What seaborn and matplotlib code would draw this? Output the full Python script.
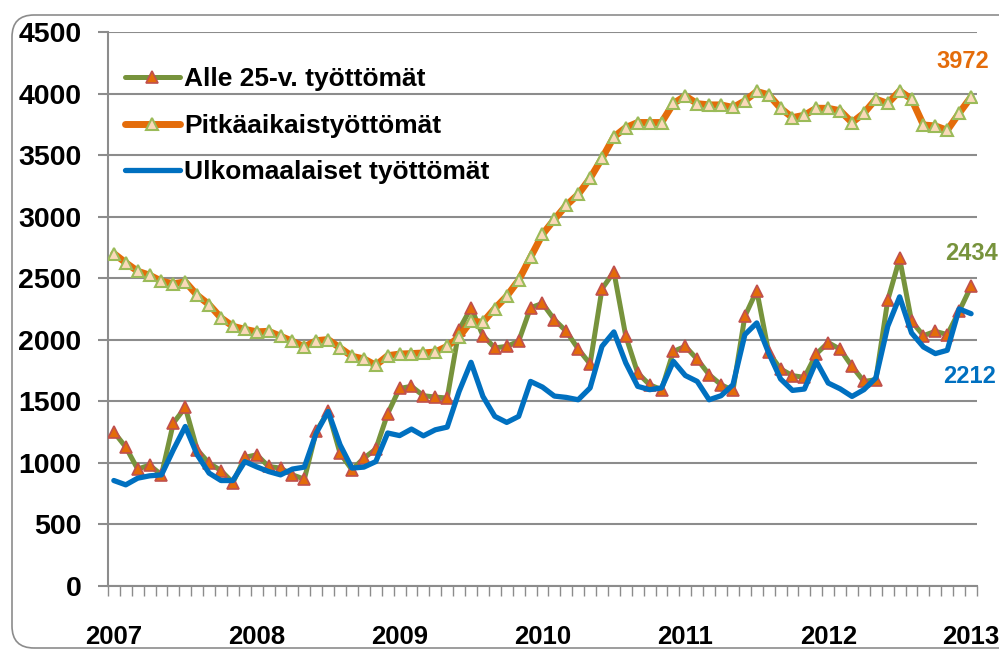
import numpy as np
import matplotlib.pyplot as plt
import seaborn as sns
from matplotlib.patches import FancyBboxPatch

# kuukausittaiset arvot tammikuu 2007 - tammikuu 2013
years = ['2007', '2008', '2009', '2010', '2011', '2012', '2013']

alle25 = [1251, 1129, 950, 982, 903, 1324, 1451, 1107, 998, 938, 840, 1045,
          1066, 971, 958, 903, 868, 1256, 1418, 1079, 944, 1039, 1112, 1400,
          1605, 1622, 1546, 1535, 1527, 2083, 2260, 2034, 1934, 1947, 1988, 2260,
          2296, 2164, 2069, 1926, 1804, 2414, 2552, 2029, 1731, 1635, 1595, 1906,
          1947, 1842, 1717, 1635, 1589, 2191, 2400, 1898, 1763, 1709, 1695, 1885,
          1978, 1923, 1784, 1662, 1676, 2321, 2661, 2151, 2034, 2069, 2042, 2232,
          2434]

pitka = [2701, 2626, 2557, 2525, 2476, 2455, 2471, 2362, 2286, 2178, 2110, 2085,
         2065, 2069, 2029, 1988, 1942, 1993, 2002, 1934, 1866, 1845, 1793, 1871,
         1884, 1888, 1893, 1901, 1947, 2023, 2151, 2143, 2254, 2354, 2484, 2671,
         2856, 2978, 3092, 3181, 3312, 3474, 3648, 3724, 3765, 3765, 3765, 3920,
         3981, 3918, 3908, 3908, 3887, 3941, 4017, 3990, 3881, 3805, 3824, 3881,
         3880, 3861, 3765, 3841, 3955, 3920, 4022, 3955, 3745, 3737, 3702, 3841,
         3972]

ulkom = [857, 822, 876, 895, 903, 1107, 1296, 1066, 917, 857, 857, 1011,
         968, 930, 903, 950, 966, 1243, 1418, 1147, 958, 966, 1011, 1243,
         1222, 1275, 1220, 1269, 1291, 1581, 1817, 1540, 1378, 1329, 1378, 1662,
         1616, 1543, 1532, 1513, 1609, 1947, 2064, 1812, 1622, 1595, 1609, 1825,
         1710, 1662, 1513, 1546, 1635, 2042, 2137, 1893, 1682, 1589, 1600, 1825,
         1649, 1602, 1540, 1595, 1690, 2110, 2349, 2056, 1942, 1888, 1915, 2251,
         2212]

labels = ['Alle 25-v. työttömät', 'Pitkäaikaistyöttömät', 'Ulkomaalaiset työttömät']

sns.set_theme(style='white')
plt.rcParams['font.family'] = ['Liberation Sans', 'DejaVu Sans']
plt.rcParams['font.weight'] = 'bold'
plt.rcParams['text.color'] = 'black'

kk = np.arange(len(alle25))

fig = plt.figure(figsize=(9.99, 6.55), dpi=100)
ax = fig.add_axes([0.108, 0.1053, 0.870, 0.8458])

# pyoristetty kehys
kehys = FancyBboxPatch((0.12, 0.07), 10.5, 6.33, boxstyle='round,pad=0,rounding_size=0.22',
                       transform=fig.dpi_scale_trans, facecolor='none', edgecolor='#8c8c8c',
                       linewidth=1.2, zorder=0)
fig.patches.append(kehys)

sns.lineplot(x=kk, y=alle25, ax=ax, color='#77933C', linewidth=3.6, marker='^', markersize=8,
             markerfacecolor='#E36C09', markeredgecolor='#C0504D', markeredgewidth=1.2,
             label=labels[0], solid_joinstyle='round', zorder=3)
sns.lineplot(x=kk, y=pitka, ax=ax, color='#E46C0A', linewidth=5, marker='^', markersize=8.5,
             markerfacecolor='#FAD9B9', markeredgecolor='#9BBB59', markeredgewidth=1.5,
             label=labels[1], solid_joinstyle='round', zorder=4)
sns.lineplot(x=kk, y=ulkom, ax=ax, color='#0070C0', linewidth=3.8,
             label=labels[2], solid_joinstyle='round', zorder=5)

ax.set_xlim(-0.5, len(kk) - 0.5)
ax.set_ylim(0, 4500)
ax.set_yticks(np.arange(0, 4501, 500))
ax.set_xticks(np.arange(0, len(kk), 12))
ax.set_xticklabels(years)
ax.set_xticks(np.arange(-0.5, len(kk), 1), minor=True)
ax.yaxis.grid(True, color='#8c8c8c', linewidth=1.5)
ax.set_axisbelow(True)

for s in ['top', 'right']:
    ax.spines[s].set_visible(False)
for s in ['left', 'bottom']:
    ax.spines[s].set_color('#8c8c8c')
    ax.spines[s].set_linewidth(1.5)

ax.tick_params(axis='y', which='major', left=True, length=7, width=1.5, color='#8c8c8c',
               pad=12, labelsize=20.5, labelcolor='black')
ax.tick_params(axis='x', which='major', bottom=False, length=0, pad=28, labelsize=18.5,
               labelcolor='black')
ax.tick_params(axis='x', which='minor', bottom=True, length=7, width=1, color='#8c8c8c')
for t in ax.get_xticklabels() + ax.get_yticklabels():
    t.set_fontweight('bold')

leg = ax.legend(loc='upper left', bbox_to_anchor=(0.004, 0.96), frameon=False, numpoints=1,
                handlelength=2.1, handletextpad=0.15, labelspacing=0.85, borderpad=0,
                prop={'size': 19, 'weight': 'bold'})
for t in leg.get_texts():
    t.set_color('black')

# viimeisten arvojen merkinnat
ax.annotate(str(pitka[-1]), xy=(kk[-1], pitka[-1]), xytext=(-8, 36), textcoords='offset pixels',
            ha='center', va='center', color='#E46C0A', fontsize=17, fontweight='bold')
ax.annotate(str(alle25[-1]), xy=(kk[-1], alle25[-1]), xytext=(0, 33), textcoords='offset pixels',
            ha='center', va='center', color='#77933C', fontsize=17, fontweight='bold',
            annotation_clip=False)
ax.annotate(str(ulkom[-1]), xy=(kk[-1], ulkom[-1]), xytext=(-2, -63), textcoords='offset pixels',
            ha='center', va='center', color='#0070C0', fontsize=17, fontweight='bold')

fig.savefig('out.png', dpi=100)
